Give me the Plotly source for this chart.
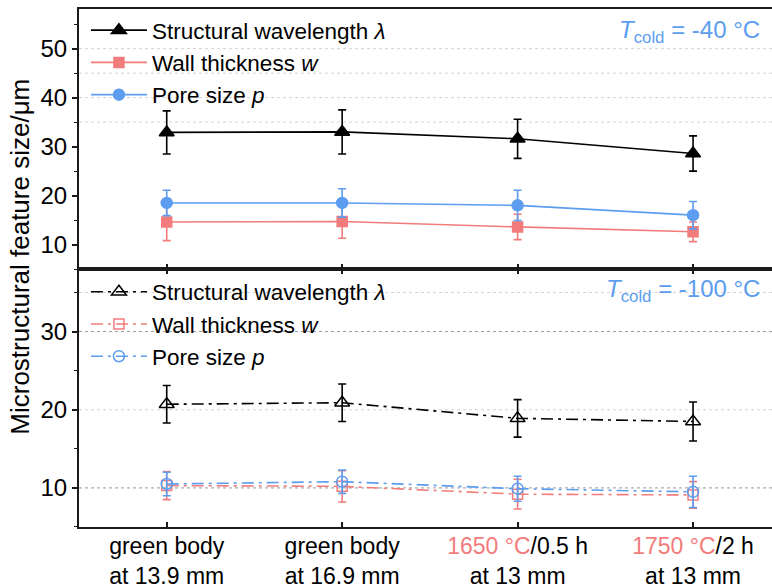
import plotly.graph_objects as go

# Sample states along the build direction
categories = [
    "green body<br>at 13.9 mm",
    "green body<br>at 16.9 mm",
    "<span style='color:#F27C7C'>1650 °C</span>/0.5 h<br>at 13 mm",
    "<span style='color:#F27C7C'>1750 °C</span>/2 h<br>at 13 mm",
]

# T_cold = -40 °C
lam_40 = [32.9, 33.0, 31.6, 28.6]
lam_40_err = [4.4, 4.5, 4.0, 3.6]
wall_40 = [14.6, 14.7, 13.6, 12.6]
wall_40_err = [3.8, 3.4, 2.6, 2.0]
pore_40 = [18.5, 18.5, 18.0, 16.0]
pore_40_err = [2.6, 2.9, 3.1, 2.8]

# T_cold = -100 °C
lam_100 = [20.7, 20.9, 18.9, 18.5]
lam_100_err = [2.4, 2.4, 2.4, 2.5]
wall_100 = [10.3, 10.2, 9.2, 9.1]
wall_100_err = [1.8, 2.0, 1.9, 1.7]
pore_100 = [10.5, 10.8, 9.9, 9.5]
pore_100_err = [1.5, 1.5, 1.6, 2.0]

# Reference gridlines per panel: (value, colour)
grid_top = [(35, "#d4d4d4"), (40, "#d4d4d4"), (45, "#d4d4d4"), (50, "#d4d4d4")]
grid_bottom = [(10, "#9a9a9a"), (20, "#d4d4d4"), (30, "#9a9a9a"), (35, "#d4d4d4")]

BLACK = "#000000"
RED = "#F27C7C"
BLUE = "#5C9DF0"
FONT = "Arial, Liberation Sans, sans-serif"

fig = go.Figure()


def add_series(name, y, err, color, symbol, size, dash, xaxis, yaxis, legend):
    fig.add_trace(go.Scatter(
        x=categories, y=y, name=name, mode="lines+markers",
        line=dict(color=color, width=1.6, dash=dash),
        marker=dict(symbol=symbol, size=size, color=color,
                    line=dict(color=color, width=1.5)),
        error_y=dict(type="data", array=err, visible=True, color=color,
                     thickness=1.6, width=4),
        xaxis=xaxis, yaxis=yaxis, legend=legend,
    ))


dd = "12px,5px,3px,5px"
add_series("Structural wavelength <i>λ</i>", lam_40, lam_40_err, BLACK,
           "triangle-up", 13, "solid", "x", "y", "legend")
add_series("Wall thickness <i>w</i>", wall_40, wall_40_err, RED,
           "square", 10, "solid", "x", "y", "legend")
add_series("Pore size <i>p</i>", pore_40, pore_40_err, BLUE,
           "circle", 11, "solid", "x", "y", "legend")

add_series("Structural wavelength <i>λ</i>", lam_100, lam_100_err, BLACK,
           "triangle-up-open", 13, dd, "x2", "y2", "legend2")
add_series("Wall thickness <i>w</i>", wall_100, wall_100_err, RED,
           "square-open", 10, dd, "x2", "y2", "legend2")
add_series("Pore size <i>p</i>", pore_100, pore_100_err, BLUE,
           "circle-open", 11, dd, "x2", "y2", "legend2")

shapes = []
for val, col in grid_top:
    shapes.append(dict(type="line", xref="x domain", yref="y", x0=0, x1=1,
                       y0=val, y1=val, layer="below",
                       line=dict(color=col, width=1, dash="dot")))
for val, col in grid_bottom:
    shapes.append(dict(type="line", xref="x2 domain", yref="y2", x0=0, x1=1,
                       y0=val, y1=val, layer="below",
                       line=dict(color=col, width=1, dash="dot")))

split = 0.498
axis_common = dict(showline=True, linecolor="#1a1a1a", linewidth=2,
                   showgrid=False, zeroline=False, automargin=False)
minor_ticks = dict(dtick=5, tick0=0, ticks="outside", ticklen=3,
                   tickwidth=1.2, tickcolor="#1a1a1a")

fig.update_layout(
    width=772, height=587,
    margin=dict(l=79, r=0, t=9, b=60, autoexpand=False),
    paper_bgcolor="white", plot_bgcolor="white",
    font=dict(family=FONT, size=22, color="black"),
    showlegend=True,
    shapes=shapes,
    xaxis=dict(**axis_common, domain=[0, 1], anchor="y", mirror=True,
               type="category", range=[-0.5, 3.45],
               ticks="inside", ticklen=5, tickwidth=1.5, tickcolor="#1a1a1a",
               showticklabels=False),
    yaxis=dict(**axis_common, domain=[split, 1], anchor="x",
               range=[5, 58.1], tickvals=[10, 20, 30, 40, 50],
               ticks="outside", ticklen=5, tickwidth=1.5, tickcolor="#1a1a1a",
               minor=minor_ticks, tickfont=dict(size=24)),
    xaxis2=dict(**axis_common, domain=[0, 1], anchor="y2", mirror="ticks",
                type="category", range=[-0.5, 3.45],
                ticks="inside", ticklen=5, tickwidth=1.5, tickcolor="#1a1a1a",
                ticklabelstandoff=-3, tickfont=dict(size=23)),
    yaxis2=dict(**axis_common, domain=[0, split], anchor="x2",
                range=[5, 38], tickvals=[10, 20, 30],
                ticks="outside", ticklen=5, tickwidth=1.5, tickcolor="#1a1a1a",
                minor=minor_ticks, tickfont=dict(size=24)),
    legend=dict(x=0.01, y=1.0, xanchor="left", yanchor="top",
                bgcolor="rgba(0,0,0,0)", font=dict(size=22.5),
                itemwidth=56, tracegroupgap=0),
    legend2=dict(x=0.01, y=split - 0.003, xanchor="left", yanchor="top",
                 bgcolor="rgba(0,0,0,0)", font=dict(size=22.5),
                 itemwidth=56, tracegroupgap=0),
    annotations=[
        dict(text="<i>T</i><sub>cold</sub> = -40 °C", xref="paper", yref="paper",
             x=0.985, y=0.99, xanchor="right", yanchor="top", showarrow=False,
             font=dict(size=24, color=BLUE)),
        dict(text="<i>T</i><sub>cold</sub> = -100 °C", xref="paper", yref="paper",
             x=0.985, y=split - 0.008, xanchor="right", yanchor="top", showarrow=False,
             font=dict(size=24, color=BLUE)),
        dict(text="Microstructural feature size/μm", xref="paper", yref="paper",
             x=-0.085, y=0.522, xanchor="center", yanchor="middle",
             textangle=-90, showarrow=False, font=dict(size=26)),
    ],
)

fig.write_html("out.html")
